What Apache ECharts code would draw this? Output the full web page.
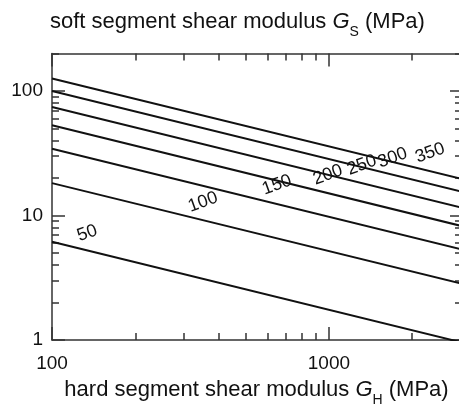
<!DOCTYPE html>
<html>
<head>
<meta charset="utf-8">
<style>
  html, body { margin: 0; padding: 0; background: #fff; }
  #chart { width: 459px; height: 405px; }
</style>
<script src="https://cdn.jsdelivr.net/npm/echarts@6/dist/echarts.min.js"></script>
</head>
<body>
<div id="chart"></div>
<script>
// hard segment modulus at the two ends of every line (MPa)
const gH = [100, 3000];
// soft segment modulus read at gH[0] and gH[1], one pair per curve
const curveNames = ['50', '100', '150', '200', '250', '300', '350'];
const gS50 = [6.16, 0.96];
const gS100 = [18.2, 2.84];
const gS150 = [34.4, 5.35];
const gS200 = [53, 8.25];
const gS250 = [74.3, 11.6];
const gS300 = [100, 15.6];
const gS350 = [126, 19.7];
const curves = [gS50, gS100, gS150, gS200, gS250, gS300, gS350];

// where the curve labels sit (data units)
const labelX = [134, 351, 649, 991, 1315, 1700, 2320];
const labelY = [7.2, 12.8, 17.6, 21.2, 25.4, 29, 31.8];

// axis ticks
const xMajor = [100, 1000];
const xMinor = [200, 300, 400, 500, 600, 700, 800, 900, 2000, 3000];
const yMajor = [1, 10, 100];
const yMinor = [2, 3, 4, 5, 6, 7, 8, 9, 20, 30, 40, 50, 60, 70, 80, 90, 200];

const xMin = 100, xMax = 3000, yMin = 1, yMax = 200;

const font = 'Liberation Sans';
const axisColor = '#333';

const nameRich = {
    a: { fontFamily: font, fontSize: 22, fontWeight: 'normal', color: '#111' },
    i: { fontFamily: font, fontSize: 22, fontWeight: 'normal', color: '#111', fontStyle: 'italic' },
    s: { fontFamily: font, fontSize: 14, fontWeight: 'normal', color: '#111', padding: [20, 0, 0, 0] }
};

function xAx(pos, ticks, len, withLine, withLabel) {
    return {
        type: 'log', min: xMin, max: xMax, position: pos,
        axisLine: { show: withLine, lineStyle: { color: axisColor, width: 1.5 } },
        axisTick: { show: true, inside: true, length: len, customValues: ticks,
            lineStyle: { color: axisColor, width: 1.5 } },
        axisLabel: withLabel ? {
            customValues: ticks, margin: 14, color: '#111', fontFamily: font, fontSize: 19,
            formatter: v => String(Math.round(v))
        } : { show: false },
        splitLine: { show: false }
    };
}
function yAx(pos, ticks, len, withLine, withLabel) {
    return {
        type: 'log', min: yMin, max: yMax, position: pos,
        axisLine: { show: withLine, lineStyle: { color: axisColor, width: 1.5 } },
        axisTick: { show: true, inside: true, length: len, customValues: ticks,
            lineStyle: { color: axisColor, width: 1.5 } },
        axisLabel: withLabel ? {
            customValues: ticks, margin: 9, color: '#111', fontFamily: font, fontSize: 19,
            formatter: v => String(Math.round(v))
        } : { show: false },
        splitLine: { show: false }
    };
}

const xAxes = [
    xAx('bottom', xMajor, 13, true, true),
    xAx('bottom', xMinor, 7, false, false),
    xAx('top', xMajor, 13, true, false),
    xAx('top', xMinor, 7, false, false)
];
xAxes[0].name = '{a|hard segment shear modulus }{i|G}{s|H}{a| (MPa)}';
xAxes[0].nameLocation = 'middle';
xAxes[0].nameGap = 33;
xAxes[0].nameTextStyle = { rich: nameRich };

const yAxes = [
    yAx('left', yMajor, 13, true, true),
    yAx('left', yMinor, 7, false, false),
    yAx('right', yMajor, 11, true, false),
    yAx('right', yMinor, 6, false, false)
];

const series = curves.map((c, k) => ({
    name: curveNames[k],
    type: 'line',
    xAxisIndex: 0,
    yAxisIndex: 0,
    symbol: 'none',
    silent: true,
    clip: true,
    lineStyle: { color: '#111', width: 2 },
    data: gH.map((x, j) => [x, c[j]])
}));

series.push({
    type: 'scatter',
    xAxisIndex: 0,
    yAxisIndex: 0,
    symbolSize: 0,
    silent: true,
    itemStyle: { color: '#fff', opacity: 1 },
    label: {
        show: true, position: 'inside', rotate: 20,
        fontFamily: font, fontSize: 18, color: '#111', opacity: 1,
        textBorderWidth: 0,
        formatter: p => curveNames[p.dataIndex]
    },
    data: labelX.map((x, k) => [x, labelY[k]])
});

const chart = echarts.init(document.getElementById('chart'));
chart.setOption({
    animation: false,
    backgroundColor: '#fff',
    title: {
        text: '{a|soft segment shear modulus }{i|G}{s|S}{a| (MPa)}',
        left: 50, top: 5, padding: 0,
        textStyle: { rich: nameRich }
    },
    grid: { left: 52, right: -2, top: 53.5, bottom: 65, outerBoundsMode: 'none' },
    xAxis: xAxes,
    yAxis: yAxes,
    series: series
});
</script>
</body>
</html>
